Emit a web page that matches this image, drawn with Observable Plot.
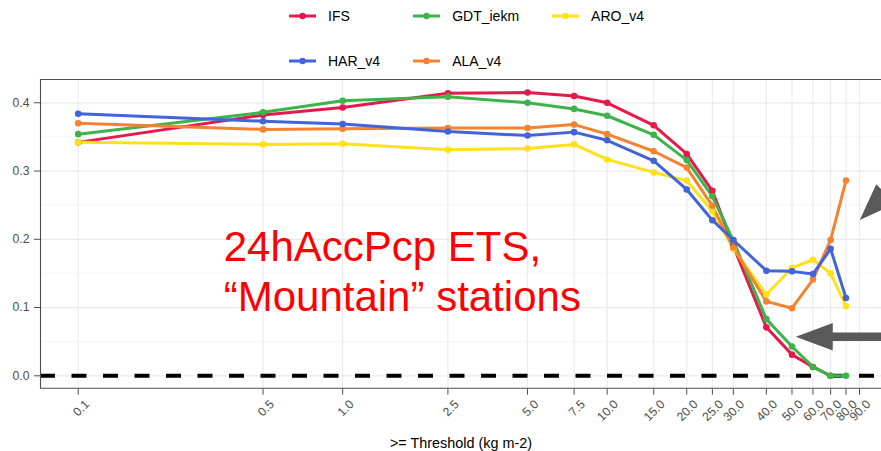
<!DOCTYPE html>
<html><head><meta charset="utf-8">
<script src="https://cdn.jsdelivr.net/npm/d3@7"></script>
<script src="https://cdn.jsdelivr.net/npm/@observablehq/plot@0.6"></script>
<style>
body{margin:0;background:#fff;font-family:"Liberation Sans",Arial,sans-serif;}
#legend{position:relative;height:78px;width:881px;}
#legend .grid{position:absolute;left:289px;top:6px;display:grid;grid-template-columns:repeat(3,max-content);column-gap:33px;row-gap:25px;}
#legend .item{display:flex;align-items:center;font-size:14px;color:#000;height:20px;}
#legend .item svg{margin-right:12px;}
</style></head><body>
<div id="legend"></div>
<div id="chart"></div>
<script>
// ---- data ----
const thresholds = [0.1, 0.5, 1.0, 2.5, 5.0, 7.5, 10.0, 15.0, 20.0, 25.0, 30.0, 40.0, 50.0, 60.0, 70.0, 80.0];
const tickLabels = [0.1, 0.5, 1.0, 2.5, 5.0, 7.5, 10.0, 15.0, 20.0, 25.0, 30.0, 40.0, 50.0, 60.0, 70.0, 80.0, 90.0];
const seriesNames = ["IFS", "GDT_iekm", "ARO_v4", "HAR_v4", "ALA_v4"];
const seriesColors = ["#e6194b", "#3cb44b", "#ffe119", "#4363d8", "#f58231"];
const drawOrder = ["IFS", "GDT_iekm", "ARO_v4", "ALA_v4", "HAR_v4"];

const IFS      = [0.342, 0.382, 0.393, 0.414, 0.415, 0.410, 0.400, 0.367, 0.325, 0.271, 0.190, 0.071, 0.031, 0.013, 0.000, null];
const GDT_iekm = [0.354, 0.386, 0.403, 0.409, 0.400, 0.391, 0.381, 0.353, 0.316, 0.263, 0.198, 0.083, 0.043, 0.013, 0.000, 0.000];
const ARO_v4   = [0.342, 0.339, 0.340, 0.331, 0.333, 0.339, 0.317, 0.298, 0.286, 0.241, 0.186, 0.119, 0.158, 0.170, 0.150, 0.102];
const HAR_v4   = [0.384, 0.373, 0.369, 0.358, 0.352, 0.357, 0.345, 0.315, 0.273, 0.228, 0.199, 0.154, 0.153, 0.149, 0.186, 0.114];
const ALA_v4   = [0.370, 0.361, 0.362, 0.363, 0.363, 0.368, 0.354, 0.329, 0.305, 0.249, 0.188, 0.109, 0.099, 0.141, 0.199, 0.286];

const yMajor = [0.0, 0.1, 0.2, 0.3, 0.4];
const yMinor = [0.05, 0.15, 0.25, 0.35];
const xLabel = ">= Threshold (kg m-2)";

const annText = ["24hAccPcp ETS,", "\u201CMountain\u201D stations"];
const annX = [0.355, 0.355];
const annY = [0.1688, 0.0956];

const arrowTipX = [51.9, 90.6];
const arrowTipY = [0.0565, 0.2274];
const arrowAngle = [0, 45];

// ---- build table ----
const seriesValues = {IFS, GDT_iekm, ARO_v4, HAR_v4, ALA_v4};
const rows = [];
for (const name of drawOrder) {
  seriesValues[name].forEach((v, j) => {
    if (v != null) rows.push({series: name, t: thresholds[j], v});
  });
}

// ---- legend ----
const lg = d3.select("#legend").append("div").attr("class", "grid");
seriesNames.forEach((name, i) => {
  const it = lg.append("div").attr("class", "item");
  const s = it.append("svg").attr("width", 27).attr("height", 10);
  s.append("line").attr("x1", 0).attr("x2", 27).attr("y1", 5).attr("y2", 5)
    .attr("stroke", seriesColors[i]).attr("stroke-width", 3);
  s.append("circle").attr("cx", 13.5).attr("cy", 5).attr("r", 3.2).attr("fill", seriesColors[i]);
  it.append("span").text(name);
});

// ---- annotation / frame renderer ----
function extras(index, scales, values, dim) {
  const g = d3.create("svg:g");
  const l = dim.marginLeft, t = dim.marginTop, b = dim.height - dim.marginBottom, r = dim.width;
  g.append("path").attr("d", `M${r},${t + 0.5}H${l + 0.5}V${b - 0.5}H${r}`)
    .attr("fill", "none").attr("stroke", "#4d4d4d").attr("stroke-width", 1.1);
  arrowTipX.forEach((ax, i) => {
    const tx = scales.x(ax), ty = scales.y(arrowTipY[i]);
    const a = arrowAngle[i] * Math.PI / 180;
    const dx = Math.cos(a), dy = -Math.sin(a);
    const nx = -dy, ny = dx;
    const L = 37, W = 13.7, S = 4.3, len = 200;
    const mx = tx + L * dx, my = ty + L * dy;
    const head = [[tx, ty], [mx + W * nx, my + W * ny], [mx - W * nx, my - W * ny]];
    const shaft = [[mx + S * nx - dx, my + S * ny - dy], [mx + S * nx + len * dx, my + S * ny + len * dy],
                   [mx - S * nx + len * dx, my - S * ny + len * dy], [mx - S * nx - dx, my - S * ny - dy]];
    for (const poly of [shaft, head]) {
      g.append("path").attr("d", "M" + poly.map(p => p.join(",")).join("L") + "Z").attr("fill", "#595959");
    }
  });
  return g.node();
}

const chart = Plot.plot({
  width: 881,
  height: 373,
  marginLeft: 40,
  marginRight: 0,
  marginTop: 1,
  marginBottom: 62.3,
  style: {fontFamily: "Liberation Sans, Arial, sans-serif", fontSize: "12.2px", color: "#4d4d4d", background: "white", overflow: "visible"},
  x: {type: "log", domain: [0.1, 90], range: [77.7, 859], ticks: tickLabels, tickFormat: () => "", tickSize: 6, label: null},
  y: {domain: [-0.01963, 0.4341], ticks: yMajor, tickFormat: ".1f", tickSize: 6, tickPadding: 5, label: null},
  color: {domain: seriesNames, range: seriesColors},
  marks: [
    Plot.ruleY(yMinor, {stroke: "#f2f2f2", strokeWidth: 0.7}),
    Plot.ruleY(yMajor, {stroke: "#ebebeb", strokeWidth: 1.2}),
    Plot.ruleX(tickLabels, {stroke: "#ebebeb", strokeWidth: 1.2}),
    Plot.ruleY([0], {stroke: "#000", strokeWidth: 4, strokeDasharray: "15,16.5"}),
    Plot.line(rows, {x: "t", y: "v", z: "series", stroke: "series", strokeWidth: 3}),
    Plot.dot(rows, {x: "t", y: "v", fill: "series", r: 3.3}),
    Plot.text(annText, {x: (d, i) => annX[i], y: (d, i) => annY[i], text: d => d, fill: "#ff0000", fontSize: 42, textAnchor: "start", lineAnchor: "bottom"}),
    Plot.text(tickLabels, {x: d => d, text: d => d.toFixed(1), frameAnchor: "bottom", rotate: -45, textAnchor: "end", lineAnchor: "middle", dx: 9, dy: 13, fontSize: 12.2, fill: "#4d4d4d"}),
    Plot.text([xLabel], {frameAnchor: "bottom", dy: 59, lineAnchor: "bottom", fontSize: 14.4, fill: "#000"}),
    extras
  ]
});
document.getElementById("chart").appendChild(chart);
</script>
</body></html>
